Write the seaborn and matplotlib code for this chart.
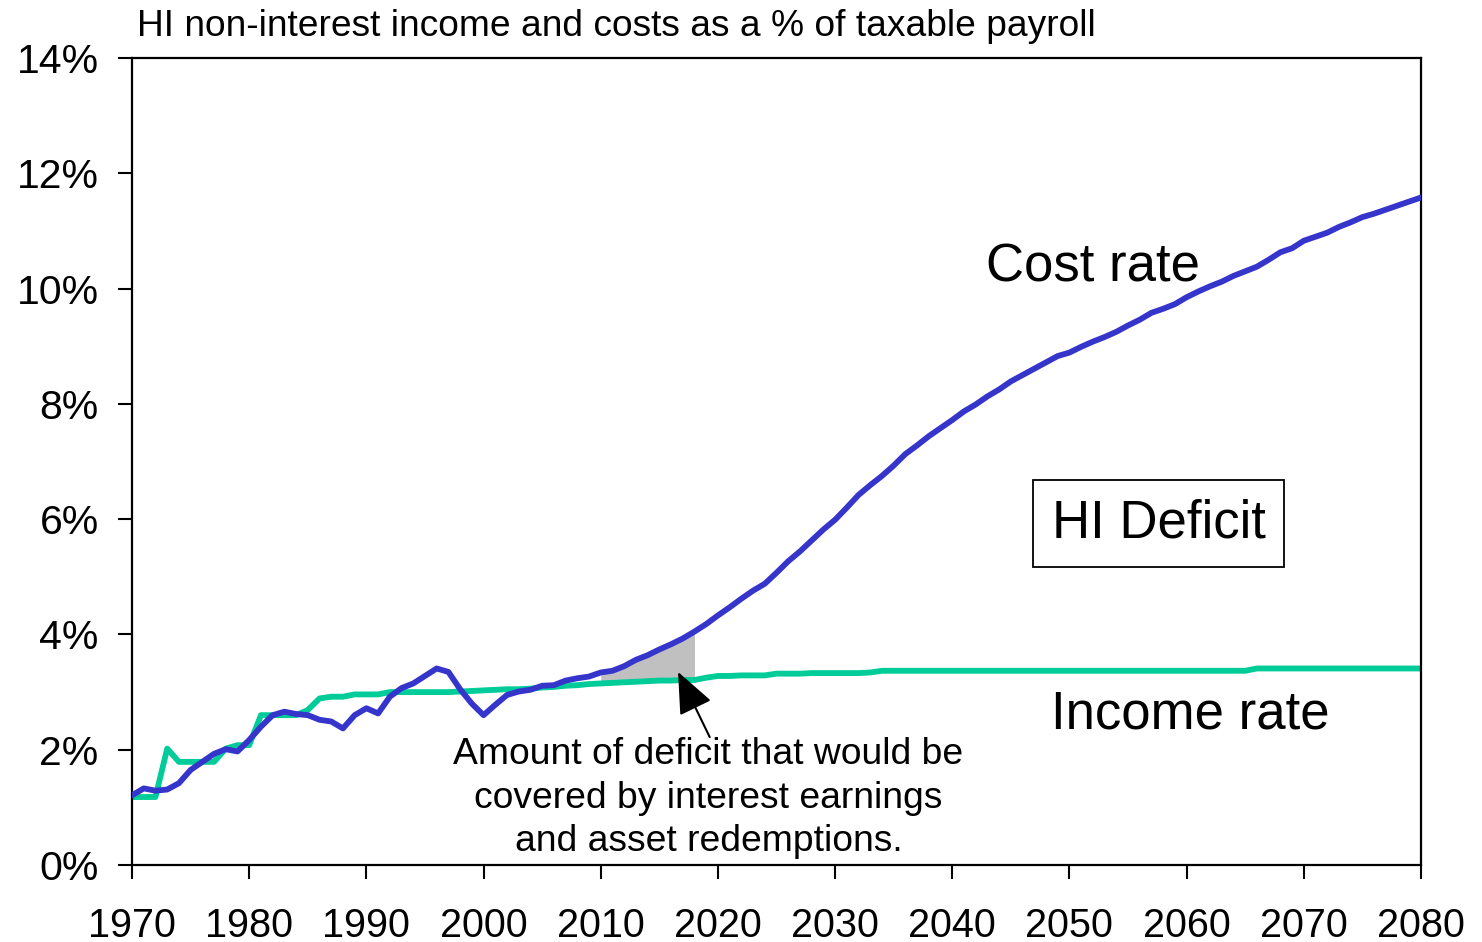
import matplotlib
matplotlib.use("Agg")
import matplotlib.pyplot as plt
import pandas as pd
import seaborn as sns

# HI non-interest income and cost rates, % of taxable payroll
years = list(range(1970, 2081))

cost_rate = [
    1.21, 1.33, 1.29, 1.31, 1.42, 1.65, 1.79, 1.93, 2.01, 1.97,
    2.17, 2.40, 2.60, 2.66, 2.62, 2.60, 2.52, 2.49, 2.37, 2.60,
    2.72, 2.63, 2.92, 3.07, 3.15, 3.28, 3.41, 3.35, 3.05, 2.80,
    2.60, 2.78, 2.95, 3.01, 3.04, 3.11, 3.12, 3.20, 3.24, 3.27,
    3.34, 3.37, 3.45, 3.56, 3.64, 3.74, 3.83, 3.93, 4.05, 4.18,
    4.33, 4.47, 4.62, 4.76, 4.88, 5.07, 5.27, 5.44, 5.63, 5.82,
    5.99, 6.20, 6.42, 6.59, 6.75, 6.93, 7.13, 7.28, 7.44, 7.58,
    7.72, 7.87, 7.99, 8.13, 8.25, 8.39, 8.50, 8.61, 8.72, 8.83,
    8.89, 8.99, 9.08, 9.16, 9.25, 9.36, 9.46, 9.58, 9.65, 9.73,
    9.85, 9.95, 10.04, 10.12, 10.22, 10.30, 10.38, 10.50, 10.63, 10.70,
    10.83, 10.90, 10.97, 11.07, 11.15, 11.24, 11.30, 11.37, 11.44, 11.51,
    11.58,
]

income_rate = [
    1.18, 1.18, 1.18, 2.02, 1.79, 1.79, 1.79, 1.79, 2.02, 2.08,
    2.08, 2.60, 2.60, 2.60, 2.60, 2.69, 2.89, 2.92, 2.92, 2.96,
    2.96, 2.96, 3.00, 3.00, 3.00, 3.00, 3.00, 3.00, 3.01, 3.02,
    3.03, 3.04, 3.05, 3.05, 3.06, 3.08, 3.09, 3.11, 3.12, 3.14,
    3.15, 3.16, 3.17, 3.18, 3.19, 3.20, 3.20, 3.21, 3.21, 3.25,
    3.28, 3.28, 3.29, 3.29, 3.29, 3.32, 3.32, 3.32, 3.33, 3.33,
    3.33, 3.33, 3.33, 3.34, 3.37, 3.37, 3.37, 3.37, 3.37, 3.37,
    3.37, 3.37, 3.37, 3.37, 3.37, 3.37, 3.37, 3.37, 3.37, 3.37,
    3.37, 3.37, 3.37, 3.37, 3.37, 3.37, 3.37, 3.37, 3.37, 3.37,
    3.37, 3.37, 3.37, 3.37, 3.37, 3.37, 3.41, 3.41, 3.41, 3.41,
    3.41, 3.41, 3.41, 3.41, 3.41, 3.41, 3.41, 3.41, 3.41, 3.41,
    3.41,
]

# Years whose gap is covered by interest earnings and asset redemptions
covered_years = [2010, 2011, 2012, 2013, 2014, 2015, 2016, 2017, 2018]

x_ticks = [1970, 1980, 1990, 2000, 2010, 2020, 2030, 2040, 2050, 2060, 2070, 2080]
y_ticks = [0, 2, 4, 6, 8, 10, 12, 14]
y_tick_labels = ["0%", "2%", "4%", "6%", "8%", "10%", "12%", "14%"]

COST_COLOR = "#3535CC"
INCOME_COLOR = "#00CC99"
FILL_COLOR = "#C0C0C0"

sns.set_style("white")
plt.rcParams["font.family"] = ["Liberation Sans", "DejaVu Sans"]
plt.rcParams["text.color"] = "black"
plt.rcParams["xtick.color"] = "black"
plt.rcParams["ytick.color"] = "black"
plt.rcParams["xtick.labelcolor"] = "black"
plt.rcParams["ytick.labelcolor"] = "black"

df = pd.DataFrame({"year": years, "cost": cost_rate, "income": income_rate})
covered = df[df["year"].isin(covered_years)]

fig = plt.figure(figsize=(14.82, 9.42), dpi=100)
ax = fig.add_axes([0.0891, 0.0817, 0.8697, 0.8567])

ax.fill_between(covered["year"], covered["income"], covered["cost"],
                color=FILL_COLOR, linewidth=0, zorder=1)
sns.lineplot(data=df, x="year", y="income", ax=ax, color=INCOME_COLOR,
             linewidth=4.2, zorder=2)
sns.lineplot(data=df, x="year", y="cost", ax=ax, color=COST_COLOR,
             linewidth=4.2, zorder=3)

ax.set_xlim(1970, 2080)
ax.set_ylim(0, 14)
ax.set_xticks(x_ticks)
ax.set_xticklabels([str(t) for t in x_ticks], fontsize=28.5)
ax.set_yticks(y_ticks)
ax.set_yticklabels(y_tick_labels, fontsize=29.5)
ax.set_xlabel("")
ax.set_ylabel("")
ax.tick_params(axis="x", direction="out", length=10, width=1.5,
               color="black", labelcolor="black", pad=20, bottom=True)
ax.tick_params(axis="y", direction="out", length=10, width=1.5,
               color="black", labelcolor="black", pad=14, left=True)
for side in ["left", "right", "top", "bottom"]:
    ax.spines[side].set_visible(True)
    ax.spines[side].set_color("black")
    ax.spines[side].set_linewidth(1.6)

fig.text(137 / 1482, 1 - 27 / 942,
         "HI non-interest income and costs as a % of taxable payroll",
         fontsize=26.7, ha="left", va="center", color="black")

ax.text(2052.0, 10.37, "Cost rate", fontsize=38, ha="center", va="center",
        color="black")
ax.text(2060.3, 2.62, "Income rate", fontsize=38, ha="center", va="center",
        color="black")
ax.text(2057.6, 5.92, "HI Deficit", fontsize=38, ha="center", va="center",
        color="black",
        bbox=dict(boxstyle="square,pad=0.35", facecolor="white",
                  edgecolor="black", linewidth=1.3))

ax.text(2019.2, 1.16,
        "Amount of deficit that would be\ncovered by interest earnings\nand asset redemptions.",
        fontsize=26.8, ha="center", va="center", linespacing=1.31,
        color="black")
ax.annotate("", xy=(2016.6, 3.35), xytext=(2019.3, 2.22),
            arrowprops=dict(arrowstyle="-|>,head_length=1.3,head_width=0.55",
                            color="black", lw=1.5, mutation_scale=20,
                            shrinkA=0, shrinkB=0))

fig.savefig("out.png", dpi=100)
